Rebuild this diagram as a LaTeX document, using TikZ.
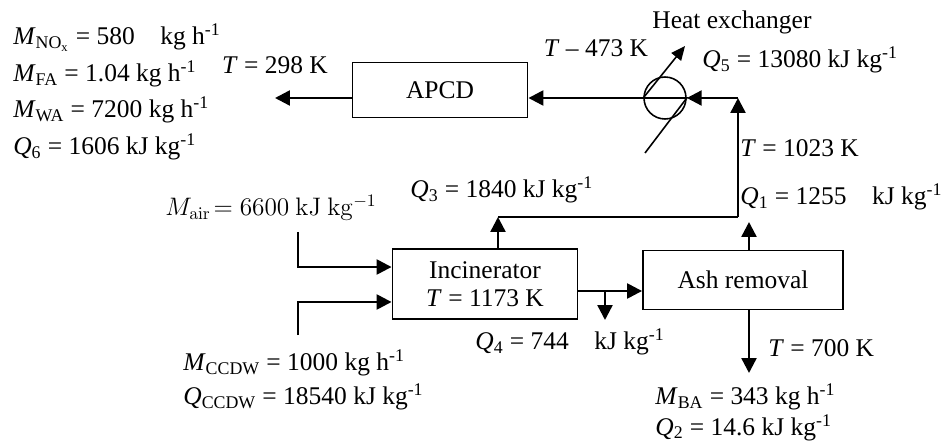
\documentclass[tikz,border=0pt]{standalone}
\usepackage[no-math]{fontspec}
\setmainfont{Liberation Serif}
\usetikzlibrary{arrows.meta,positioning,calc}

\begin{document}
\begin{tikzpicture}[
  x=0.02cm,y=-0.02cm,
  font=\fontsize{14.5}{17}\selectfont,
  unit/.style={draw=black, line width=1.1pt, minimum height=1.1cm, inner sep=0pt},
  pipe/.style={draw=black, line width=1.4pt},
  flow/.style={
    pipe,
    -{Triangle[length=8.5pt,width=8.5pt]}
  },
  hxline/.style={draw=black, line width=0.9pt},
  lbl/.style={anchor=west, inner sep=0pt},
]
\useasboundingbox (0,0) rectangle (943,442);

% Units
\node[unit, minimum width=3.5cm] (apcd) at (440,90) {APCD};
\node[unit, minimum width=3.7cm, minimum height=1.4cm, align=center,
      font=\fontsize{14.5}{16}\selectfont] (inc) at (485,284)
  {Incinerator\\\textit{T} = 1173 K};
\node[unit, minimum width=4cm, minimum height=1.18cm] (ash) at (743,280) {Ash removal};
\node[circle, hxline, minimum size=0.84cm, inner sep=0pt] (hx) at (665,98) {};

% Free ends and bends
\coordinate (stack) at (275,98);
\coordinate (hxLow) at (645,153);
\coordinate (hxTip) at (685,46);
\coordinate (riser) at (738,98);
\coordinate (q3join) at (738,217);
\coordinate (q3bend) at (498,217);
\coordinate (ashUp) at (749,222);
\coordinate (ashOut) at (749,373);
\coordinate (ashIn) at (643,291);
\coordinate (q4split) at (605,291);
\coordinate (q4out) at (605,320);
\coordinate (airTop) at (298,232);
\coordinate (ccdwBot) at (298,335);

% Gas line
\draw[flow] (hx.west) -- (apcd.east |- hx.west);
\draw[flow] (apcd.west |- hx.west) -- (stack);
\draw[flow] (riser) -- (hx.east);
\draw[flow] (q3join) -- (riser);
\draw[pipe] (q3bend) -- (q3join);
\draw[flow] (inc.north -| q3bend) -- (q3bend);

% Heat exchanger symbol
\draw[hxline] (hxLow) -- (hx.east) -- (hx.west);
\draw[hxline, -{Triangle[length=8pt,width=7pt]}] (hx.west) -- (hxTip);

% Incinerator and ash removal
\draw[flow] (inc.east |- ashIn) -- (ash.west |- ashIn);
\draw[flow] (q4split) -- (q4out);
\draw[flow] (ash.north -| ashUp) -- (ashUp);
\draw[flow] (ash.south -| ashUp) -- (ashOut);

% Feeds
\draw[flow] (airTop) |- ([yshift=0.34cm]inc.west);
\draw[flow] (ccdwBot) |- ([yshift=-0.36cm]inc.west);

% Labels
\node[lbl, align=left, font=\fontsize{14.5}{20.8}\selectfont] (gasOut) at (13,92)
  {\textit{M}\textsubscript{NO\textsubscript{x}} = 580\quad kg h\textsuperscript{-1}\\
   \textit{M}\textsubscript{FA} = 1.04 kg h\textsuperscript{-1}\\
   \textit{M}\textsubscript{WA} = 7200 kg h\textsuperscript{-1}\\
   \textit{Q}\textsubscript{6} = 1606 kJ kg\textsuperscript{-1}};
\node (tStack) at (275,65) {\textit{T} = 298 K};
\node (tHx) at (596,48) {\textit{T} – 473 K};
\node[lbl] (hxName) at (652,22) {Heat exchanger};
\node[lbl] (qHx) at (702,60) {\textit{Q}\textsubscript{5} = 13080 kJ kg\textsuperscript{-1}};
\node[lbl] (tRiser) at (740,148) {\textit{T} = 1023 K};
\node[lbl] (qAsh) at (740,197) {\textit{Q}\textsubscript{1} = 1255\quad kJ kg\textsuperscript{-1}};
\node[lbl] (qInc) at (410,190) {\textit{Q}\textsubscript{3} = 1840 kJ kg\textsuperscript{-1}};
\node[lbl, font=\fontsize{14}{16}\selectfont] (air) at (165,208)
  {$M_{\mathrm{air}}\!= 6600\ \mathrm{kJ\ kg^{-1}}$};
\node[lbl] (qLoss) at (475,342) {\textit{Q}\textsubscript{4} = 744\quad kJ kg\textsuperscript{-1}};
\node[lbl] (tAsh) at (768,348) {\textit{T} = 700 K};
\node[lbl, align=left, font=\fontsize{14.5}{17.6}\selectfont] (ashData) at (655,412)
  {\textit{M}\textsubscript{BA} = 343 kg h\textsuperscript{-1}\\
   \textit{Q}\textsubscript{2} = 14.6 kJ kg\textsuperscript{-1}};
\node[lbl, align=left, font=\fontsize{14.5}{19.5}\selectfont] (ccdw) at (183,380)
  {\textit{M}\textsubscript{CCDW} = 1000 kg h\textsuperscript{-1}\\
   \textit{Q}\textsubscript{CCDW} = 18540 kJ kg\textsuperscript{-1}};

\end{tikzpicture}
\end{document}
